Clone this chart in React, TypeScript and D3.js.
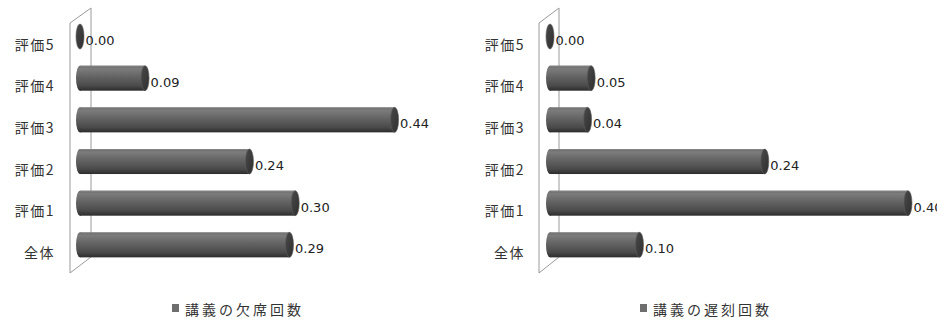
import React from "react";
import * as d3 from "d3";

const categories = ["全体", "評価1", "評価2", "評価3", "評価4", "評価5"];
const absenceValues = [0.293, 0.301, 0.237, 0.44, 0.091, 0.0];
const latenessValues = [0.1, 0.4, 0.24, 0.042, 0.046, 0.0];
const seriesNames = ["講義の欠席回数", "講義の遅刻回数"];

const W = 937;
const H = 320;

type ChartProps = {
  id: string;
  values: number[];
  name: string;
  x0: number;
  xMax: number;
  xEnd: number;
  wallL: number;
  wallR: number;
  labelRight: number;
  legendX: number;
};

function Chart({ id, values, name, x0, xMax, xEnd, wallL, wallR, labelRight, legendX }: ChartProps) {
  const x = d3.scaleLinear().domain([0, xMax]).range([x0, xEnd]);
  const y = d3
    .scaleBand<string>()
    .domain([...categories].reverse())
    .range([15.7, 265.7])
    .paddingInner(0.4)
    .paddingOuter(0.2);
  const bw = y.bandwidth();
  const rx = 4;
  const fmt = d3.format(".2f");
  const wall = `M${wallL},23 L${wallR},8 L${wallR},257 L${wallL},273 Z`;
  return (
    <g>
      <defs>
        <linearGradient id={`body-${id}`} x1="0" y1="0" x2="0" y2="1">
          <stop offset="0%" stopColor="#6a6a6a" />
          <stop offset="12%" stopColor="#7c7c7c" />
          <stop offset="45%" stopColor="#636363" />
          <stop offset="80%" stopColor="#4a4a4a" />
          <stop offset="100%" stopColor="#2c2c2c" />
        </linearGradient>
        <linearGradient id={`cap-${id}`} x1="0" y1="0" x2="1" y2="1">
          <stop offset="0%" stopColor="#4a4a4a" />
          <stop offset="100%" stopColor="#2e2e2e" />
        </linearGradient>
      </defs>
      <path d={wall} fill="#ffffff" stroke="#9a9a9a" strokeWidth={1} />
      {categories.map((c, i) => {
        const v = values[i];
        const top = y(c)!;
        const cy = top + bw / 2;
        const cx = x(v);
        return (
          <g key={c}>
            {v > 0 && (
              <>
                <ellipse cx={x0} cy={cy} rx={rx} ry={bw / 2} fill={`url(#body-${id})`} />
                <rect x={x0} y={top} width={cx - x0} height={bw} fill={`url(#body-${id})`} />
                <line x1={x0} x2={cx} y1={top + 0.5} y2={top + 0.5} stroke="#8a8a8a" strokeWidth={0.8} />
              </>
            )}
            <ellipse cx={cx} cy={cy} rx={rx} ry={bw / 2} fill={`url(#cap-${id})`} stroke="#5a5a5a" strokeWidth={0.6} />
            <text
              x={cx + rx + 1.5}
              y={cy + 4}
              dominantBaseline="central"
              fontFamily="DejaVu Sans, Verdana, sans-serif"
              fontSize={13}
              fill="#222"
            >
              {fmt(v)}
            </text>
            <text
              x={labelRight}
              y={cy + 7}
              dominantBaseline="central"
              textAnchor="end"
              fontFamily="Noto Sans CJK JP, sans-serif"
              fontSize={14}
              letterSpacing={1.5}
              fill="#333"
            >
              {c}
            </text>
          </g>
        );
      })}
      <rect x={legendX} y={304} width={7} height={8} fill="#6e6e6e" />
      <text
        x={legendX + 13}
        y={309}
        dominantBaseline="central"
        fontFamily="Noto Sans CJK JP, sans-serif"
        fontSize={14}
        letterSpacing={3}
        fill="#333"
      >
        {name}
      </text>
    </g>
  );
}

export default function App() {
  return (
    <svg width={W} height={H} style={{ display: "block", position: "absolute", left: 0, top: 0, background: "#fff" }}>
      <rect width={W} height={H} fill="#fff" />
      <Chart
        id="a"
        values={absenceValues}
        name={seriesNames[0]}
        x0={80}
        xMax={0.5}
        xEnd={437.5}
        wallL={70}
        wallR={91}
        labelRight={55}
        legendX={172}
      />
      <Chart
        id="b"
        values={latenessValues}
        name={seriesNames[1]}
        x0={550}
        xMax={0.4}
        xEnd={908}
        wallL={539}
        wallR={559}
        labelRight={525}
        legendX={640}
      />
    </svg>
  );
}
